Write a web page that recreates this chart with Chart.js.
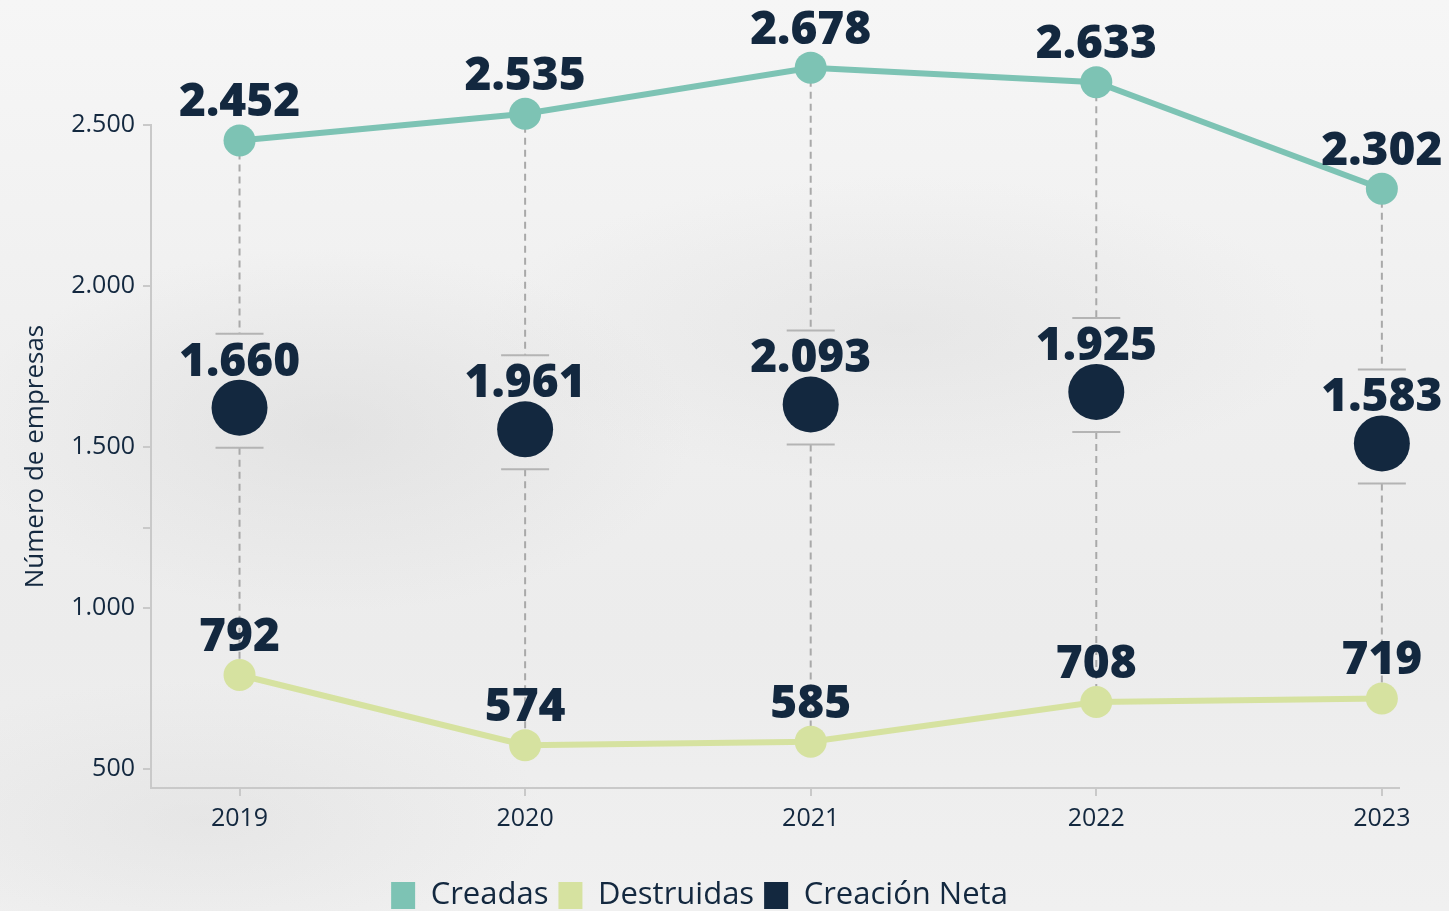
<!DOCTYPE html>
<html lang="es">
<head>
<meta charset="utf-8">
<title>Creación de empresas</title>
<script src="https://cdn.jsdelivr.net/npm/chart.js@4.4.1/dist/chart.umd.min.js"></script>
<style>
  html, body { margin: 0; padding: 0; }
  body {
    width: 1449px; height: 911px; overflow: hidden;
    background:
      radial-gradient(ellipse 520px 260px at 330px 430px, rgba(200,200,200,0.30), rgba(200,200,200,0) 70%),
      radial-gradient(ellipse 600px 220px at 900px 330px, rgba(205,205,205,0.25), rgba(205,205,205,0) 70%),
      radial-gradient(ellipse 500px 200px at 200px 820px, rgba(210,210,210,0.30), rgba(210,210,210,0) 70%),
      linear-gradient(180deg, #f6f6f6 0%, #efefef 40%, #ececec 70%, #f0f0f0 100%);
  }
  #wrap { position: relative; width: 1449px; height: 911px; }
</style>
</head>
<body>
<div id="wrap"><canvas id="chart"></canvas></div>
<script>
// Creación y destrucción de empresas 2019-2023

// ==================== DATOS ====================
const years = [2019, 2020, 2021, 2022, 2023];
const created = [2452, 2535, 2678, 2633, 2302];
const destroyed = [792, 574, 585, 708, 719];
const netLabels = ['1.660', '1.961', '2.093', '1.925', '1.583'];
// posición vertical en la que aparece cada punto de creación neta
const netPos = [1622, 1555, 1632, 1671, 1511];
const yTicks = [500, 1000, 1250, 1500, 2000, 2500];

const NAVY = '#13283f';
const TEAL = '#7dc3b4';
const LIME = '#d6e2a0';
const AXIS = '#c9c9c9';
const FONT = "'Open Sans', 'Lato', sans-serif";

function fmt(v) {
    return String(v).replace(/\B(?=(\d{3})+(?!\d))/g, '.');
}

// ==================== PLUGINS ====================
const rangeLines = {
    id: 'rangeLines',
    beforeDatasetsDraw(chart) {
        const { ctx, scales: { x, y } } = chart;
        ctx.save();
        ctx.lineWidth = 2;
        years.forEach((yr, i) => {
            const px = x.getPixelForValue(yr);
            const top = y.getPixelForValue(created[i]);
            const bot = y.getPixelForValue(destroyed[i]);
            const mid = y.getPixelForValue(netPos[i]);
            const capT = mid - 74, capB = mid + 40;
            ctx.strokeStyle = '#a9a9a9';
            ctx.setLineDash([7, 5]);
            ctx.beginPath();
            ctx.moveTo(px, top); ctx.lineTo(px, capT);
            ctx.moveTo(px, capB); ctx.lineTo(px, bot);
            ctx.stroke();
            ctx.setLineDash([]);
            ctx.strokeStyle = '#b4b4b4';
            ctx.beginPath();
            ctx.moveTo(px - 24, capT); ctx.lineTo(px + 24, capT);
            ctx.moveTo(px - 24, capB); ctx.lineTo(px + 24, capB);
            ctx.stroke();
        });
        ctx.restore();
    }
};

// los puntos de las líneas se salen del área (por encima de 2.500), se pintan aquí
const markers = {
    id: 'markers',
    afterDatasetsDraw(chart) {
        const ctx = chart.ctx;
        ctx.save();
        [0, 1].forEach(di => {
            ctx.fillStyle = chart.data.datasets[di].backgroundColor;
            chart.getDatasetMeta(di).data.forEach(pt => {
                ctx.beginPath();
                ctx.arc(pt.x, pt.y, 16, 0, Math.PI * 2);
                ctx.fill();
            });
        });
        ctx.restore();
    }
};

const valueLabels = {
    id: 'valueLabels',
    afterDatasetsDraw(chart) {
        const ctx = chart.ctx;
        const offsets = [24, 24, 32];
        ctx.save();
        ctx.font = `800 46px ${FONT}`;
        ctx.fillStyle = NAVY;
        ctx.textAlign = 'center';
        ctx.textBaseline = 'alphabetic';
        chart.data.datasets.forEach((ds, di) => {
            chart.getDatasetMeta(di).data.forEach((pt, j) => {
                const txt = di === 2 ? netLabels[j] : fmt(ds.data[j].y);
                ctx.fillText(txt, pt.x, pt.y - offsets[di]);
            });
        });
        ctx.restore();
    }
};

// ==================== CHART ====================
const ctx = document.getElementById('chart');
new Chart(ctx, {
    type: 'line',
    data: {
        datasets: [
            { label: 'Creadas', data: years.map((yr, i) => ({ x: yr, y: created[i] })), borderColor: TEAL, backgroundColor: TEAL, borderWidth: 6, pointRadius: 0, pointHoverRadius: 0, clip: false },
            { label: 'Destruidas', data: years.map((yr, i) => ({ x: yr, y: destroyed[i] })), borderColor: LIME, backgroundColor: LIME, borderWidth: 6, pointRadius: 0, pointHoverRadius: 0, clip: false },
            { label: 'Creación Neta', data: years.map((yr, i) => ({ x: yr, y: netPos[i] })), showLine: false, borderColor: NAVY, backgroundColor: NAVY, pointRadius: 28, pointHoverRadius: 28, pointBorderWidth: 0, clip: false }
        ]
    },
    options: {
        responsive: true, maintainAspectRatio: false, animation: false,
        layout: { padding: { top: 125, right: 50, left: 0, bottom: -10 } },
        plugins: {
            tooltip: { enabled: false },
            legend: {
                position: 'bottom',
                labels: {
                    boxWidth: 24, boxHeight: 27, padding: 10, color: NAVY,
                    font: { family: FONT, size: 31 },
                    generateLabels: chart => chart.data.datasets.map((ds, i) => ({ text: ds.label, fillStyle: ds.backgroundColor, strokeStyle: ds.backgroundColor, lineWidth: 0, fontColor: NAVY, datasetIndex: i }))
                }
            }
        },
        scales: {
            x: {
                type: 'linear', min: 2018.69, max: 2023.06,
                afterBuildTicks: s => { s.ticks = years.map(v => ({ value: v })); },
                afterFit: s => { s.height = 82; },
                border: { display: true, color: AXIS, width: 2 },
                grid: { drawOnChartArea: false, drawTicks: true, tickLength: 8, color: AXIS, lineWidth: 2 },
                ticks: { color: NAVY, padding: 8, font: { family: FONT, size: 25 }, callback: v => String(v) }
            },
            y: {
                min: 441, max: 2500,
                afterBuildTicks: s => { s.ticks = yTicks.map(v => ({ value: v })); },
                afterFit: s => { s.width = 151; },
                border: { display: true, color: AXIS, width: 2 },
                grid: { drawOnChartArea: false, drawTicks: true, tickLength: 8, color: AXIS, lineWidth: 2 },
                ticks: { color: NAVY, padding: 8, font: { family: FONT, size: 25 }, callback: v => v === 1250 ? '' : fmt(v) },
                title: { display: true, text: 'Número de empresas', color: NAVY, font: { family: FONT, size: 26 }, padding: { top: 20, bottom: 0 } }
            }
        }
    },
    plugins: [rangeLines, markers, valueLabels]
});
</script>
</body>
</html>
